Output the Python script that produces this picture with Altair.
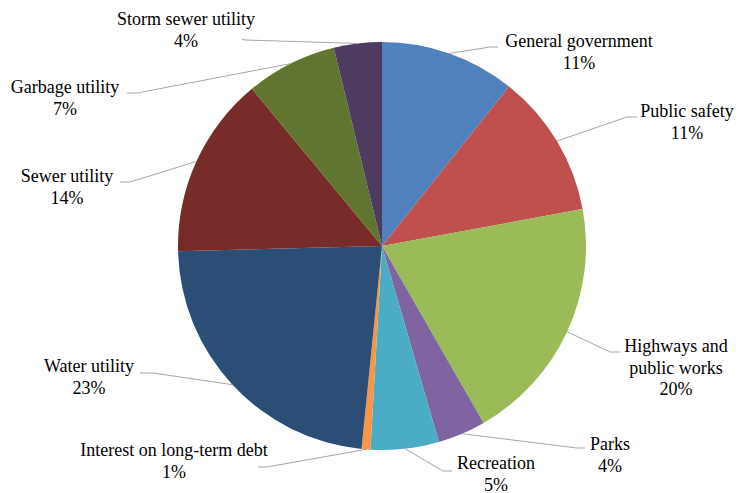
import altair as alt
import pandas as pd

# ---- data ----
categories = [
    "General government", "Public safety", "Highways and public works", "Parks",
    "Recreation", "Interest on long-term debt", "Water utility", "Sewer utility",
    "Garbage utility", "Storm sewer utility",
]
values = [10.7, 11.4, 19.6, 3.8, 5.4, 0.7, 23.0, 14.4, 7.2, 3.8]
colors = ["#4F81BD", "#C0504D", "#9BBB59", "#8064A2", "#4BACC6",
          "#F79646", "#2C4D75", "#772C2A", "#5F7530", "#4D3B62"]

# ---- layout (label placement, pixels) ----
CX, CY, R = 382, 246, 204
FONT = "Liberation Serif"
label_names = {"Highways and public works": "Highways and\npublic works"}
label_x = [579, 687, 676, 610, 496, 174, 89, 67, 65, 186]
label_y = [42, 112, 347, 445, 464, 451, 367, 177, 88, 20]  # first text line
elbow_x = [490, 627, 610, 577, 443, 267, 153, 130, 137, 245]
elbow_y = [47, 117, 352, 448, 471, 467, 373, 182, 93, 40]
end_x = [498, 637, 620, 585, 452, 258, 140, 120, 127, 242]
end_y = [47, 117, 352, 448, 471, 467, 373, 182, 93, 39]

df = pd.DataFrame({
    "category": categories,
    "value": values,
    "order": list(range(len(categories))),
    "name": [label_names.get(c, c) for c in categories],
    "lx": label_x, "ly": label_y,
    "ex": elbow_x, "ey": elbow_y,
    "tx": end_x, "ty": end_y,
})

base = alt.Chart(df)

color = alt.Color("category:N", scale=alt.Scale(domain=categories, range=colors), legend=None)

pie = base.mark_arc(outerRadius=R, stroke=None).encode(
    theta=alt.Theta("value:Q", stack=True),
    color=color,
    order=alt.Order("order:Q"),
    x=alt.value(CX),
    y=alt.value(CY),
)

calc = base.transform_joinaggregate(total="sum(value)").transform_window(
    cum="sum(value)", sort=[alt.SortField("order")], frame=[None, 0]
).transform_calculate(
    mid="(datum.cum - datum.value/2) / datum.total * 2 * PI",
).transform_calculate(
    sx=f"{CX} + {R} * sin(datum.mid)",
    sy=f"{CY} - {R} * cos(datum.mid)",
    label="datum.name + '\\n' + format(datum.value / datum.total, '.0%')",
)

seg1 = calc.mark_rule(color="#A6A6A6", strokeWidth=1).encode(
    x=alt.X("sx:Q", scale=None), y=alt.Y("sy:Q", scale=None),
    x2="ex:Q", y2="ey:Q",
)
seg2 = calc.mark_rule(color="#A6A6A6", strokeWidth=1).encode(
    x=alt.X("ex:Q", scale=None), y=alt.Y("ey:Q", scale=None),
    x2="tx:Q", y2="ty:Q",
)
text = calc.mark_text(
    font=FONT, fontSize=18,
    color="#000000", align="center", baseline="middle", lineBreak="\n", lineHeight=21.5,
).encode(
    x=alt.X("lx:Q", scale=None), y=alt.Y("ly:Q", scale=None),
    text="label:N",
)

chart = alt.layer(pie, seg1, seg2, text).properties(
    width=739, height=493, autosize="none", padding=0, background="white"
).configure(font=FONT).configure_text(font=FONT).configure_view(stroke=None)

chart.save("out.html", embed_options={"renderer": "svg", "actions": False})
